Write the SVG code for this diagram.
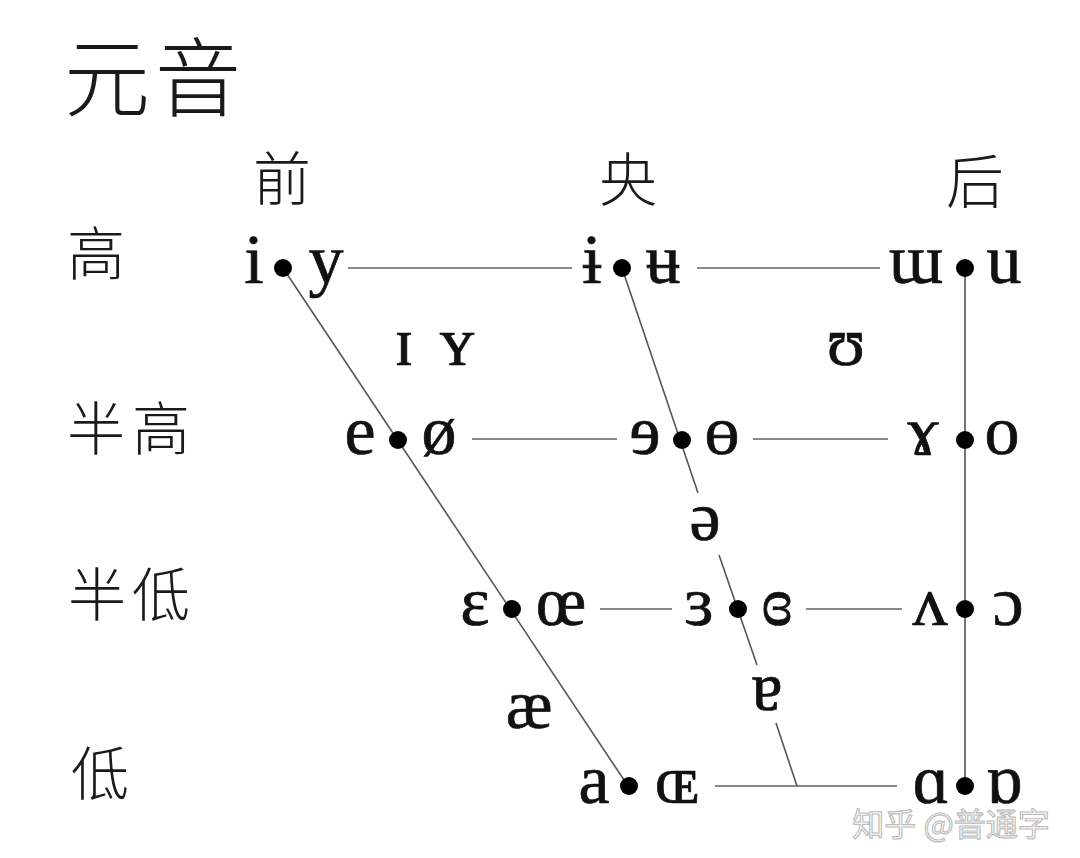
<svg xmlns="http://www.w3.org/2000/svg" width="1080" height="858" viewBox="0 0 1080 858">
<style>
.bg{fill:#ffffff}
.ipa{font-family:"Liberation Serif","DejaVu Serif",serif;font-size:70px;fill:#111;stroke:#111;stroke-width:0.7;text-anchor:middle}
.cjk{font-family:"Noto Sans CJK SC","Noto Sans CJK JP",sans-serif;font-weight:300;fill:#1a1a1a;text-anchor:middle}
.title{font-size:86px}
.lab{font-size:58px}
.wm{font-family:"Noto Sans CJK SC",sans-serif;font-size:32px;fill:#ffffff;stroke:#bdbdbd;stroke-width:1.2;text-anchor:middle}
.dot{fill:#000}
.ln{stroke:#555;stroke-width:1.6;fill:none}
.hl{stroke:#8a8a8a;stroke-width:2.2;fill:none}
</style>
<rect class="bg" x="0" y="0" width="1080" height="858"/>

<g id="title"><text class="cjk title" x="107 198" y="110">元音</text></g>

<g id="col-labels">
  <text class="cjk lab" x="282" y="200">前</text>
  <text class="cjk lab" x="628" y="201">央</text>
  <text class="cjk lab" x="975" y="203">后</text>
</g>
<g id="row-labels">
  <text class="cjk lab" x="96" y="275">高</text>
  <text class="cjk lab" x="96 161" y="450">半高</text>
  <text class="cjk lab" x="97 161" y="616">半低</text>
  <text class="cjk lab" x="100" y="795">低</text>
</g>

<g id="connectors">
  <line class="hl" x1="348" y1="268" x2="572" y2="268"/>
  <line class="hl" x1="697" y1="268" x2="880" y2="268"/>
  <line class="hl" x1="472" y1="439" x2="617" y2="439"/>
  <line class="hl" x1="753" y1="439" x2="888" y2="439"/>
  <line class="hl" x1="600" y1="609" x2="672" y2="609"/>
  <line class="hl" x1="806" y1="609" x2="902" y2="609"/>
  <line class="hl" x1="715" y1="786" x2="897" y2="786"/>
  <line class="ln" x1="283" y1="268" x2="628" y2="786"/>
  <line class="ln" x1="622" y1="268" x2="698" y2="493"/>
  <line class="ln" x1="719" y1="555" x2="757" y2="665"/>
  <line class="ln" x1="776" y1="723" x2="797" y2="786"/>
  <line class="ln" x1="965" y1="268" x2="965" y2="786"/>
</g>

<g id="close-front"><text class="ipa" x="254" y="283">i</text><circle class="dot" cx="283" cy="268" r="9"/><text class="ipa" x="326" y="283">y</text></g>
<g id="close-central"><text class="ipa" x="592" y="283">ɨ</text><circle class="dot" cx="622" cy="268" r="9"/><text class="ipa" x="663" y="283">ʉ</text></g>
<g id="close-back"><text class="ipa" x="916" y="283">ɯ</text><circle class="dot" cx="965" cy="268" r="9"/><text class="ipa" x="1004" y="283">u</text></g>

<g id="near-close-front"><text class="ipa" x="404" y="365">ɪ</text><text class="ipa" x="457" y="365">ʏ</text></g>
<g id="near-close-back"><text class="ipa" x="846" y="365">ʊ</text></g>

<g id="closemid-front"><text class="ipa" x="360" y="454">e</text><circle class="dot" cx="398" cy="440" r="9"/><text class="ipa" x="439" y="454">ø</text></g>
<g id="closemid-central"><text class="ipa" x="645" y="454">ɘ</text><circle class="dot" cx="682" cy="440" r="9"/><text class="ipa" x="722" y="454">ɵ</text></g>
<g id="closemid-back"><text class="ipa" x="923" y="454">ɤ</text><circle class="dot" cx="965" cy="440" r="9"/><text class="ipa" x="1002" y="454">o</text></g>

<g id="mid-central"><text class="ipa" x="705" y="540">ə</text></g>

<g id="openmid-front"><text class="ipa" x="475" y="625">ɛ</text><circle class="dot" cx="512" cy="609" r="9"/><text class="ipa" x="561" y="625">œ</text></g>
<g id="openmid-central"><text class="ipa" x="699" y="625">ɜ</text><circle class="dot" cx="738" cy="609" r="9"/><text class="ipa" x="777" y="625">ɞ</text></g>
<g id="openmid-back"><text class="ipa" x="930" y="625">ʌ</text><circle class="dot" cx="965" cy="609" r="9"/><text class="ipa" x="1008" y="625">ɔ</text></g>

<g id="near-open-front"><text class="ipa" x="529" y="728">æ</text></g>
<g id="near-open-central"><text class="ipa" x="767" y="710">ɐ</text></g>

<g id="open-front"><text class="ipa" x="594" y="803">a</text><circle class="dot" cx="629" cy="786" r="9"/><text class="ipa" x="677" y="803">ɶ</text></g>
<g id="open-back"><text class="ipa" x="931" y="803">ɑ</text><circle class="dot" cx="965" cy="786" r="9"/><text class="ipa" x="1004" y="803">ɒ</text></g>

<g id="watermark"><text class="wm" x="951" y="836">知乎 @普通字</text></g>
</svg>
